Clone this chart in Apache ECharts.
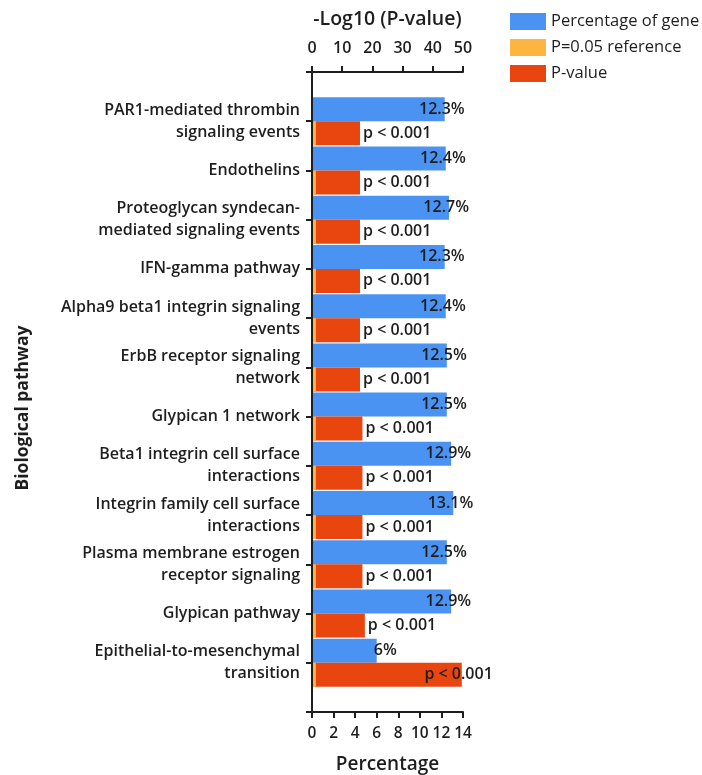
<!DOCTYPE html>
<html>
<head>
<meta charset="utf-8">
<script src="https://cdn.jsdelivr.net/npm/echarts@6/dist/echarts.min.js"></script>
<style>html,body{margin:0;padding:0;background:#fff}#c{width:702px;height:775px}</style>
</head>
<body>
<div id="c"></div>
<script>
const categories = [
  'PAR1-mediated thrombin\nsignaling events',
  'Endothelins',
  'Proteoglycan syndecan-\nmediated signaling events',
  'IFN-gamma pathway',
  'Alpha9 beta1 integrin signaling\nevents',
  'ErbB receptor signaling\nnetwork',
  'Glypican 1 network',
  'Beta1 integrin cell surface\ninteractions',
  'Integrin family cell surface\ninteractions',
  'Plasma membrane estrogen\nreceptor signaling',
  'Glypican pathway',
  'Epithelial-to-mesenchymal\ntransition'
];
const percentValues = [12.3, 12.4, 12.7, 12.3, 12.4, 12.5, 12.5, 12.9, 13.1, 12.5, 12.9, 6];
const negLogP = [15.9, 15.9, 15.9, 15.9, 15.9, 15.9, 16.7, 16.7, 16.7, 16.7, 17.5, 49.6];
const refValue = 1.3; // -log10(0.05)
const pText = 'p < 0.001';
const topTicks = {min: 0, max: 50, interval: 10};
const bottomTicks = {min: 0, max: 14, interval: 2};

const FONT = 'Open Sans';
const DARK = '#1e1e1e';
const pad = arr => ['-'].concat(arr, ['-']);
const yCats = [''].concat(categories, ['']);

const redData = pad(negLogP.map((v, i) => i === negLogP.length - 1
  ? {value: v, label: {position: 'insideRight', distance: 0, offset: [31, 0]}}
  : v));

const axisLineStyle = {lineStyle: {color: DARK, width: 2}};
const chart = echarts.init(document.getElementById('c'));
chart.setOption({
  animation: false,
  textStyle: {fontFamily: FONT},
  legend: {
    data: ['Percentage of gene', 'P=0.05 reference', 'P-value'],
    orient: 'vertical', left: 505, top: 8, icon: 'rect',
    itemWidth: 36, itemHeight: 17, itemGap: 9,
    textStyle: {fontFamily: FONT, fontSize: 16.5, color: DARK, fontWeight: 500},
    selectedMode: false
  },
  grid: {left: 312, right: 239, top: 72, bottom: 63, outerBoundsMode: 'none', containLabel: false},
  xAxis: [
    {
      type: 'value', position: 'bottom', ...bottomTicks,
      name: 'Percentage', nameLocation: 'middle', nameGap: 43,
      nameTextStyle: {fontFamily: FONT, fontSize: 19, fontWeight: 600, color: DARK},
      axisLine: {show: true, ...axisLineStyle},
      axisTick: {show: true, length: 6, lineStyle: {color: DARK, width: 2}},
      axisLabel: {margin: 14, fontFamily: FONT, fontSize: 15.5, fontWeight: 600, color: DARK},
      splitLine: {show: false}
    },
    {
      type: 'value', position: 'top', ...topTicks,
      name: '-Log10 (P-value)', nameLocation: 'middle', nameGap: 43,
      nameTextStyle: {fontFamily: FONT, fontSize: 19.5, fontWeight: 600, color: DARK},
      axisLine: {show: true, ...axisLineStyle},
      axisTick: {show: true, length: 6, lineStyle: {color: DARK, width: 2}},
      axisLabel: {margin: 16, fontFamily: FONT, fontSize: 16, fontWeight: 600, color: DARK},
      splitLine: {show: false}
    }
  ],
  yAxis: [
    {
      type: 'category', data: yCats, inverse: true, boundaryGap: false, z: 10,
      name: 'Biological pathway', nameLocation: 'middle', nameGap: 280,
      nameTextStyle: {fontFamily: FONT, fontSize: 17.5, fontWeight: 700, color: DARK, padding: [0, 32, 0, 0]},
      axisLine: {show: true, ...axisLineStyle},
      axisTick: {show: true, length: 6, interval: 0, lineStyle: {color: DARK, width: 2}},
      axisLabel: {interval: 0, margin: 12, fontFamily: FONT, fontSize: 16, fontWeight: 600,
        color: DARK, lineHeight: 22, align: 'right'},
      splitLine: {show: false}
    },
    {
      type: 'category', data: yCats, inverse: true, boundaryGap: false, show: false
    }
  ],
  series: [
    {
      name: 'Percentage of gene', type: 'bar', xAxisIndex: 0, yAxisIndex: 0,
      data: pad(percentValues), barWidth: 24, barGap: '0%',
      itemStyle: {color: '#4a93f2'},
      label: {show: true, position: 'insideRight', distance: 0, offset: [20, 0],
        formatter: p => p.value + '%', fontFamily: FONT, fontSize: 16, fontWeight: 600, color: DARK}
    },
    {
      name: 'P-value', type: 'bar', xAxisIndex: 1, yAxisIndex: 0,
      data: redData, barWidth: 24, barGap: '0%',
      itemStyle: {color: '#e8460e'},
      label: {show: true, position: 'right', distance: 3,
        formatter: () => pText, fontFamily: FONT, fontSize: 16, fontWeight: 600, color: DARK}
    },
    {
      name: '_slot', type: 'bar', xAxisIndex: 1, yAxisIndex: 1,
      data: pad(categories.map(() => '-')), barWidth: 24, barGap: '0%', silent: true
    },
    {
      name: 'P=0.05 reference', type: 'bar', xAxisIndex: 1, yAxisIndex: 1, z: 3,
      data: pad(categories.map(() => refValue)), barWidth: 24, barGap: '0%',
      itemStyle: {color: '#fdb53f'}
    }
  ]
});
</script>
</body>
</html>
